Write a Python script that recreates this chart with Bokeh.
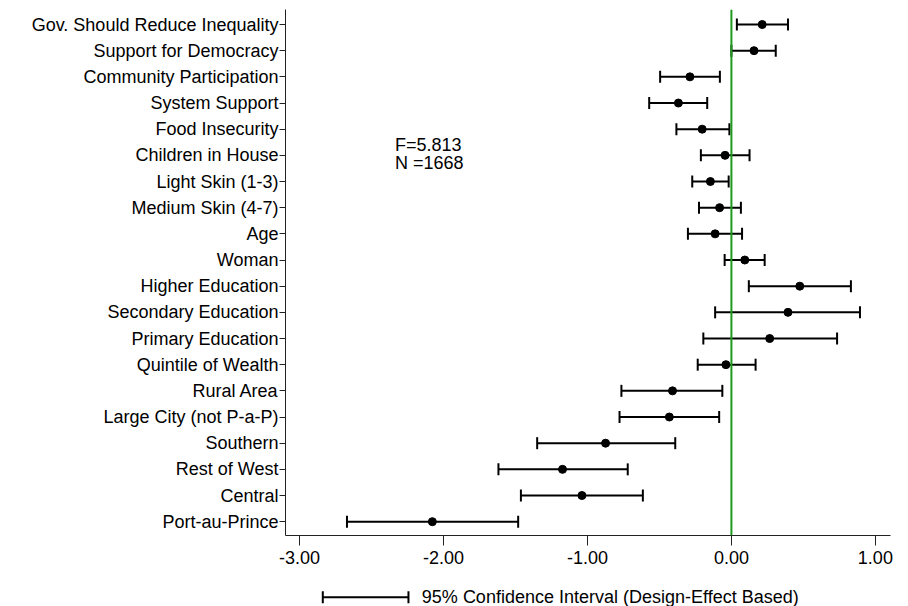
from bokeh.plotting import figure
from bokeh.models import (Range1d, FixedTicker, NumeralTickFormatter, Span, Whisker,
                          TeeHead, ColumnDataSource, Label)
from bokeh.layouts import column
from bokeh.embed import file_html
from bokeh.resources import INLINE

# ---- data (top to bottom as in the chart) ----
variables = ["Gov. Should Reduce Inequality", "Support for Democracy", "Community Participation",
             "System Support", "Food Insecurity", "Children in House", "Light Skin (1-3)",
             "Medium Skin (4-7)", "Age", "Woman", "Higher Education", "Secondary Education",
             "Primary Education", "Quintile of Wealth", "Rural Area", "Large City (not P-a-P)",
             "Southern", "Rest of West", "Central", "Port-au-Prince"]
estimates = [0.214, 0.157, -0.288, -0.368, -0.203, -0.044, -0.146, -0.082, -0.113, 0.093,
             0.475, 0.393, 0.266, -0.038, -0.409, -0.431, -0.874, -1.173, -1.038, -2.077]
ci_lower = [0.038, 0.0, -0.495, -0.571, -0.382, -0.212, -0.272, -0.225, -0.302, -0.047,
            0.121, -0.113, -0.195, -0.234, -0.764, -0.777, -1.349, -1.618, -1.462, -2.670]
ci_upper = [0.393, 0.308, -0.080, -0.168, -0.014, 0.126, -0.019, 0.066, 0.074, 0.231,
            0.830, 0.893, 0.734, 0.168, -0.063, -0.085, -0.390, -0.720, -0.615, -1.481]
x_ticks = [-3, -2, -1, 0, 1]
stats_lines = ["F=5.813", "N =1668"]
legend_text = "95% Confidence Interval (Design-Effect Based)"

FONT = "Liberation Sans"
FS = "18px"
n = len(variables)
ypos = [n - 1 - i for i in range(n)]

src = ColumnDataSource(dict(y=ypos, est=estimates, lower=ci_lower, upper=ci_upper))

xr = Range1d(-3.097, 1.105)
p = figure(width=900, height=578, output_backend="svg", toolbar_location=None,
           x_range=xr, y_range=Range1d(-0.528, 19.574),
           min_border_left=285, min_border_right=10, min_border_top=9, min_border_bottom=43)
p.outline_line_color = None
p.xgrid.visible = False
p.ygrid.visible = False
p.background_fill_color = "white"
p.border_fill_color = "white"

# zero reference line
p.add_layout(Span(location=0, dimension="height", line_color="#1e9a1e", line_width=2))

# confidence intervals
wh = Whisker(source=src, base="y", lower="lower", upper="upper", dimension="width",
             line_color="black", line_width=2, level="glyph",
             lower_head=TeeHead(size=12, line_color="black", line_width=2),
             upper_head=TeeHead(size=12, line_color="black", line_width=2))
p.add_layout(wh)
p.scatter(x="est", y="y", source=src, size=8, color="black")

# y axis
p.yaxis.ticker = FixedTicker(ticks=ypos)
p.yaxis.major_label_overrides = {ypos[i]: variables[i] for i in range(n)}
p.yaxis.major_tick_out = 6
p.yaxis.major_tick_in = 0
p.yaxis.minor_tick_line_color = None
p.yaxis.major_label_standoff = 1
p.yaxis.major_label_text_font = FONT
p.yaxis.major_label_text_font_size = FS
p.yaxis.major_label_text_color = "black"
p.yaxis.axis_line_color = "#222222"
p.yaxis.major_tick_line_color = "#222222"

# x axis
p.xaxis.ticker = FixedTicker(ticks=x_ticks)
p.xaxis.formatter = NumeralTickFormatter(format="0.00")
p.xaxis.major_tick_out = 10
p.xaxis.major_tick_in = 0
p.xaxis.minor_tick_line_color = None
p.xaxis.major_label_standoff = 5
p.xaxis.major_label_text_font = FONT
p.xaxis.major_label_text_font_size = FS
p.xaxis.major_label_text_color = "black"
p.xaxis.axis_line_color = "#222222"
p.xaxis.major_tick_line_color = "#222222"

# statistics annotation
for txt, yy in zip(stats_lines, [14.41, 13.72]):
    p.add_layout(Label(x=-2.336, y=yy, text=txt, text_font=FONT, text_font_size=FS,
                       text_color="black", text_baseline="middle", text_align="left"))

# ---- legend strip (frame aligned with the main plot, same x scale) ----
leg = figure(width=900, height=28, output_backend="svg", toolbar_location=None,
             x_range=xr, y_range=Range1d(0, 28),
             min_border_left=285, min_border_right=10, min_border_top=0, min_border_bottom=0)
leg.axis.visible = False
leg.grid.visible = False
leg.outline_line_color = None
lsrc = ColumnDataSource(dict(y=[9.3], lower=[-2.838], upper=[-2.243]))
leg.add_layout(Whisker(source=lsrc, base="y", lower="lower", upper="upper", dimension="width",
                       line_color="black", line_width=2, level="glyph",
                       lower_head=TeeHead(size=12, line_color="black", line_width=2),
                       upper_head=TeeHead(size=12, line_color="black", line_width=2)))
leg.add_layout(Label(x=-2.150, y=9.3, text=legend_text, text_font=FONT, text_font_size=FS,
                     text_color="black", text_baseline="middle", text_align="left"))

layout = column(p, leg, spacing=0)
open("out.html", "w").write(file_html(layout, INLINE))
